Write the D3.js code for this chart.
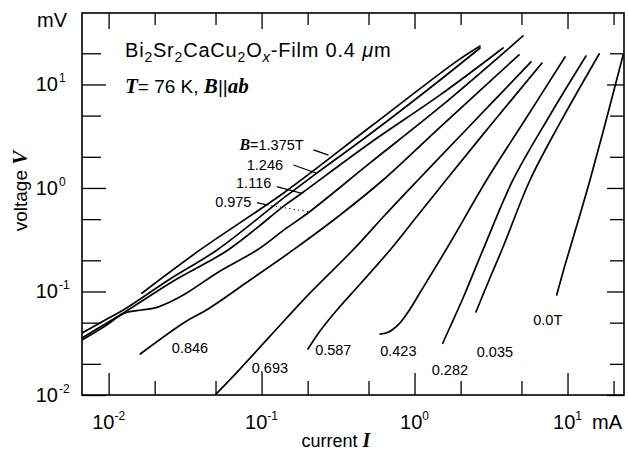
<!DOCTYPE html>
<html><head><meta charset="utf-8">
<script src="https://cdn.jsdelivr.net/npm/d3@7"></script>
<style>
body{margin:0;background:#fff}
svg{display:block}
text{font-family:"Liberation Sans",Arial,sans-serif;fill:#000}
.serif{font-family:"Liberation Serif","Times New Roman",serif;font-style:italic;font-weight:bold}
</style>
</head><body>
<svg id="c" width="628" height="454"></svg>
<script>
// ---- axes (current I in mA, voltage V in mV) ----
const xDomain = [0.0067, 23.4];
const yDomain = [0.01, 49];
const majorTicks = [0.01, 0.1, 1, 10];
const minorTicks = [0.02, 0.05, 0.2, 0.5, 2, 5, 20];
const tickExponents = ["-2", "-1", "0", "1"];

// ---- series: magnetic field B (T) ----
const fields = ["1.375", "1.246", "1.116", "0.975", "0.846", "0.693", "0.587", "0.423", "0.282", "0.035", "0.0"];
const I_1375 = [0.0165, 0.0396, 0.143, 0.512, 1.90, 2.68];
const V_1375 = [0.0962, 0.252, 0.920, 3.88, 16.9, 23.5];
const I_1246 = [0.0067, 0.0095, 0.0128, 0.0252, 0.0512, 0.143, 0.231, 0.512, 1.47, 2.68];
const V_1246 = [0.0397, 0.0531, 0.0678, 0.132, 0.252, 0.824, 1.40, 3.32, 11.05, 22.5];
const I_1116 = [0.0067, 0.0095, 0.0128, 0.0272, 0.0604, 0.143, 0.184, 0.512, 1.47, 3.79];
const V_1116 = [0.0356, 0.0485, 0.0634, 0.129, 0.252, 0.686, 0.895, 2.72, 7.92, 22.5];
const I_0975 = [0.0067, 0.0095, 0.0128, 0.0165, 0.0201, 0.0252, 0.0316, 0.0536, 0.0936, 0.143, 0.201, 0.512, 1.47, 5.12];
const V_0975 = [0.0340, 0.0465, 0.0619, 0.0662, 0.0694, 0.0793, 0.0946, 0.158, 0.252, 0.402, 0.573, 1.745, 6.06, 29.4];
const I_0846 = [0.0161, 0.0316, 0.0447, 0.0841, 0.161, 0.326, 0.622, 1.47, 4.82];
const V_0846 = [0.0249, 0.0507, 0.0678, 0.129, 0.252, 0.548, 1.194, 3.88, 19.3];
const I_0693 = [0.0497, 0.0722, 0.114, 0.2075, 0.396, 0.641, 1.054, 1.468, 2.89, 5.77];
const V_0693 = [0.0100, 0.0178, 0.0372, 0.0968, 0.252, 0.548, 1.194, 1.994, 5.67, 16.5];
const I_0587 = [0.201, 0.241, 0.311, 0.441, 0.692, 1.054, 1.607, 3.11, 6.81];
const V_0587 = [0.0278, 0.0415, 0.0662, 0.118, 0.252, 0.548, 1.194, 3.97, 16.1];
const I_0423 = [0.596, 0.652, 0.713, 0.804, 0.908, 1.102, 1.706, 2.96, 5.27, 9.63];
const V_0423 = [0.0388, 0.0397, 0.0425, 0.0497, 0.0634, 0.101, 0.294, 1.194, 4.54, 18.4];
const I_0282 = [1.528, 1.706, 2.075, 2.80, 4.40, 7.69, 13.2];
const V_0282 = [0.0316, 0.0454, 0.0865, 0.252, 1.194, 5.07, 18.8];
const I_0035 = [2.52, 3.11, 3.79, 5.69, 8.93, 16.1];
const V_0035 = [0.0634, 0.135, 0.269, 1.194, 4.25, 19.7];
const I_0000 = [8.50, 9.63, 11.53, 14.03, 17.9, 23.1];
const V_0000 = [0.0925, 0.180, 0.440, 1.194, 4.54, 19.3];

// ---- curve labels (text, anchor current, anchor voltage) ----
const labelText = ["B=1.375T", "1.246", "1.116", "0.975", "0.846", "0.693", "0.587", "0.423", "0.282", "0.035", "0.0T"];
const labelI = [0.0716, 0.0800, 0.0681, 0.0497, 0.0259, 0.0863, 0.224, 0.596, 1.295, 2.55, 5.97];
const labelV = [2.33, 1.49, 0.993, 0.659, 0.0255, 0.0162, 0.0243, 0.0240, 0.0156, 0.0234, 0.0474];
// leader lines [I1, V1, I2, V2]
const leaders = [
  [0.218, 2.33, 0.274, 2.08],
  [0.1614, 1.667, 0.2296, 1.387],
  [0.1256, 1.030, 0.1834, 0.889],
  [0.0931, 0.721, 0.1081, 0.686]
];
const dottedLeader = [0.1081, 0.686, 0.2023, 0.590];

const series = [
  [I_1375, V_1375], [I_1246, V_1246], [I_1116, V_1116], [I_0975, V_0975],
  [I_0846, V_0846], [I_0693, V_0693], [I_0587, V_0587], [I_0423, V_0423],
  [I_0282, V_0282], [I_0035, V_0035], [I_0000, V_0000]
];

const P = {left: 82, right: 624, top: 13, bottom: 395};
const svg = d3.select("#c");
const x = d3.scaleLog().domain(xDomain).range([P.left, P.right]);
const y = d3.scaleLog().domain(yDomain).range([P.bottom, P.top]);

svg.append("defs").append("clipPath").attr("id", "clip")
  .append("rect").attr("x", P.left).attr("y", P.top)
  .attr("width", P.right - P.left).attr("height", P.bottom - P.top);

// ticks
function ticks(axisFn, tr, vals, size) {
  const g = svg.append("g").attr("transform", tr)
    .call(axisFn.tickValues(vals).tickSize(-size).tickFormat(""));
  g.select(".domain").remove();
  g.selectAll("line").attr("stroke", "#000").attr("stroke-width", 1.3);
}
ticks(d3.axisBottom(x), `translate(0,${P.bottom})`, majorTicks, 22);
ticks(d3.axisBottom(x), `translate(0,${P.bottom})`, minorTicks, 14);
ticks(d3.axisTop(x), `translate(0,${P.top})`, majorTicks, 16);
ticks(d3.axisTop(x), `translate(0,${P.top})`, minorTicks, 12);
ticks(d3.axisLeft(y), `translate(${P.left},0)`, majorTicks, 24);
ticks(d3.axisLeft(y), `translate(${P.left},0)`, minorTicks, 19);
ticks(d3.axisRight(y), `translate(${P.right},0)`, majorTicks, 17);
ticks(d3.axisRight(y), `translate(${P.right},0)`, minorTicks, 14);

svg.append("rect").attr("x", P.left).attr("y", P.top)
  .attr("width", P.right - P.left).attr("height", P.bottom - P.top)
  .attr("fill", "none").attr("stroke", "#000").attr("stroke-width", 1.6);

// tick labels
majorTicks.forEach((v, i) => {
  svg.append("text").attr("x", 58).attr("y", y(v) + 7).attr("text-anchor", "end")
    .style("font-size", "20px").text("10");
  svg.append("text").attr("x", 59).attr("y", y(v) - 2)
    .style("font-size", "12px").text(tickExponents[i]);
  const t = svg.append("text").attr("x", x(v)).attr("y", 429).attr("text-anchor", "middle")
    .style("font-size", "20px");
  t.append("tspan").text("10");
  t.append("tspan").attr("dy", -9).style("font-size", "12px").text(tickExponents[i]);
});
svg.append("text").attr("x", 592).attr("y", 429).style("font-size", "20px").text("mA");
svg.append("text").attr("x", 37).attr("y", 27).style("font-size", "20px").text("mV");

// axis titles
const xt = svg.append("text").attr("x", 336).attr("y", 447).attr("text-anchor", "middle").style("font-size", "18px");
xt.append("tspan").text("current ");
xt.append("tspan").attr("class", "serif").style("font-size", "20px").text("I");
const yt = svg.append("text").attr("transform", "translate(27,191) rotate(-90)")
  .attr("text-anchor", "middle").style("font-size", "19px");
yt.append("tspan").text("voltage ");
yt.append("tspan").attr("class", "serif").style("font-size", "21px").text("V");

// title lines
const t1 = svg.append("text").attr("x", 125).attr("y", 57).style("font-size", "20px").style("letter-spacing", "0.8px");
const parts = [["Bi", 0], ["2", 1], ["Sr", -1], ["2", 1], ["CaCu", -1], ["2", 1], ["O", -1], ["x", 2], ["-Film 0.4 ", -2], ["\u03bc", 3], ["m", 0]];
parts.forEach(([s, k]) => {
  const ts = t1.append("tspan").text(s);
  if (k === 1) ts.attr("dy", 5).style("font-size", "14px");
  if (k === -1) ts.attr("dy", -5);
  if (k === 2) ts.attr("dy", 5).style("font-size", "15px").style("font-style", "italic");
  if (k === -2) ts.attr("dy", -5);
  if (k === 3) ts.style("font-style", "italic");
});
const t2 = svg.append("text").attr("x", 125).attr("y", 93).style("font-size", "19px");
t2.append("tspan").attr("class", "serif").style("font-size", "21px").text("T");
t2.append("tspan").text("= 76 K, ");
t2.append("tspan").attr("class", "serif").style("font-size", "21px").text("B");
t2.append("tspan").text("||");
t2.append("tspan").attr("class", "serif").style("font-size", "21px").text("ab");

// curves
const line = d3.line().x(d => x(d[0])).y(d => y(d[1])).curve(d3.curveCatmullRom.alpha(0.5));
const cg = svg.append("g").attr("clip-path", "url(#clip)");
series.forEach(([I, V]) => {
  cg.append("path").attr("d", line(d3.zip(I, V)))
    .attr("fill", "none").attr("stroke", "#000").attr("stroke-width", 1.7)
    .attr("stroke-linejoin", "round").attr("stroke-linecap", "round");
});

// leaders
leaders.forEach(l => {
  svg.append("line").attr("x1", x(l[0])).attr("y1", y(l[1])).attr("x2", x(l[2])).attr("y2", y(l[3]))
    .attr("stroke", "#000").attr("stroke-width", 1.3);
});
svg.append("line").attr("x1", x(dottedLeader[0])).attr("y1", y(dottedLeader[1]))
  .attr("x2", x(dottedLeader[2])).attr("y2", y(dottedLeader[3]))
  .attr("stroke", "#000").attr("stroke-width", 0.9).attr("stroke-dasharray", "1.5,3");

// labels
labelText.forEach((s, i) => {
  const t = svg.append("text").attr("x", x(labelI[i])).attr("y", y(labelV[i])).style("font-size", "14.5px");
  if (s.startsWith("B=")) {
    t.append("tspan").attr("class", "serif").style("font-size", "16px").text("B");
    t.append("tspan").text(s.slice(1));
  } else t.text(s);
});
</script>
</body></html>
